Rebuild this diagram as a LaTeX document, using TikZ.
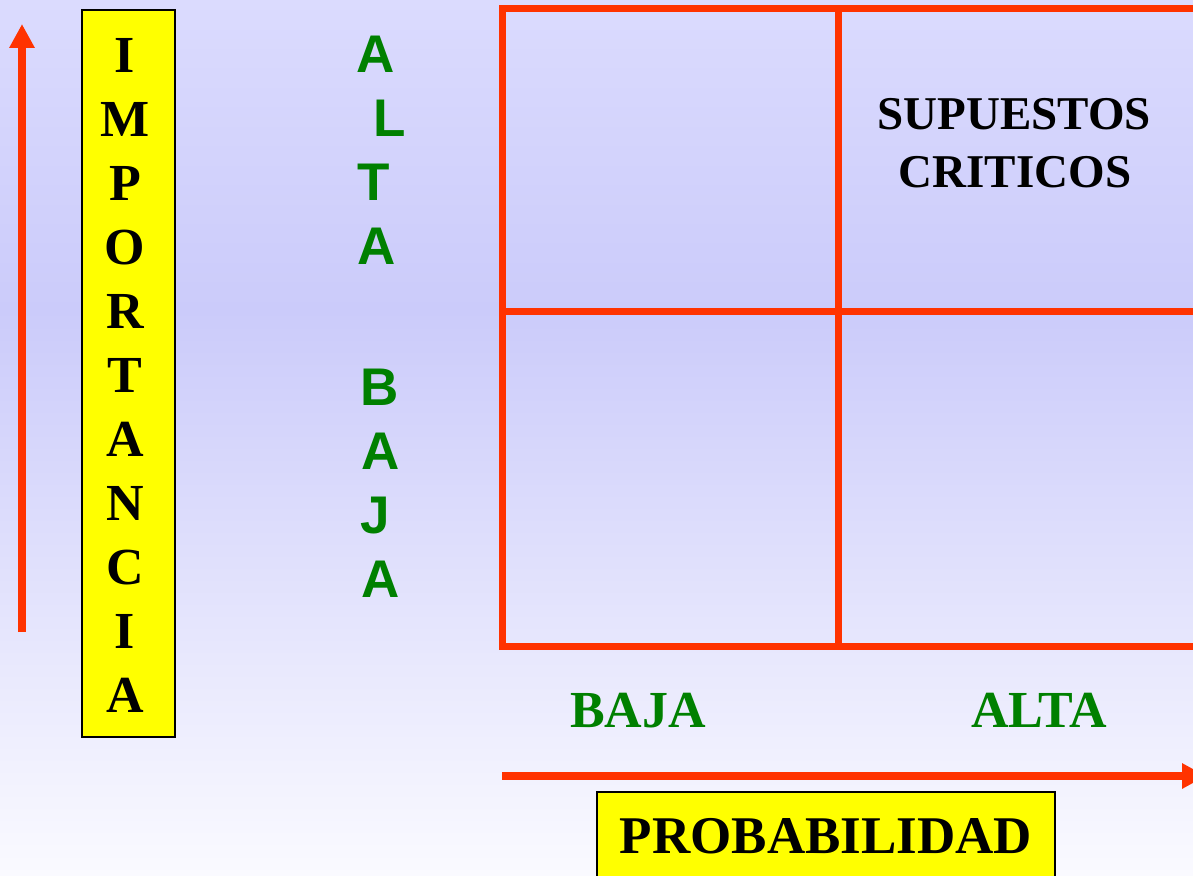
\documentclass[tikz,border=0pt]{standalone}
\usepackage{fontspec}
\setmainfont{Liberation Serif}
\newfontfamily\arialf{Liberation Sans}
\usetikzlibrary{arrows.meta}
\definecolor{bgtop}{RGB}{219,219,254}
\definecolor{bgmid}{RGB}{203,203,250}
\definecolor{bgbot}{RGB}{250,250,255}
\definecolor{axred}{RGB}{255,51,0}
\definecolor{txtgreen}{RGB}{0,128,0}
\definecolor{boxyellow}{RGB}{255,255,0}
\tikzset{
  gridline/.style={draw=axred,line width=7pt},
  axisarrow/.style={draw=axred,line width=8pt,-{Triangle[width=24pt,length=24pt]}},
  ybox/.style={draw=black,fill=boxyellow,line width=2pt},
  vletter/.style={font=\bfseries\fontsize{52}{62}\selectfont,anchor=base,inner sep=0pt},
  gletter/.style={font=\arialf\bfseries\fontsize{53}{62}\selectfont,text=txtgreen,anchor=base,inner sep=0pt},
  glabel/.style={font=\bfseries\fontsize{52}{62}\selectfont,text=txtgreen,anchor=base,inner sep=0pt},
}
\begin{document}
\begin{tikzpicture}[x=1pt,y=-1pt]
\useasboundingbox (0,0) rectangle (1193,875);
\clip (0,0) rectangle (1193,875);
% background
\shade[top color=bgtop,bottom color=bgmid] (0,0) rectangle (1193,311);
\shade[top color=bgmid,bottom color=bgbot] (0,310) rectangle (1193,875);
% grid
\coordinate (gTL) at (502,9);
\coordinate (gTR) at (1205,9);
\coordinate (gBL) at (502,646);
\coordinate (gBR) at (1205,646);
\coordinate (gMT) at (838,9);
\coordinate (gMB) at (838,646);
\coordinate (gML) at (502,311);
\coordinate (gMR) at (1205,311);
\draw[gridline,line join=miter] (gTR) -- (gTL) -- (gBL) -- (gBR);
\draw[gridline] (gMT) -- (gMB);
\draw[gridline] (gML) -- (gMR);
% vertical axis arrow
\coordinate (vA0) at (22,632);
\coordinate (vA1) at (22,24);
\draw[axisarrow] (vA0) -- (vA1);
% horizontal axis arrow
\coordinate (hA0) at (502,776);
\coordinate (hA1) at (1206,776);
\draw[axisarrow] (hA0) -- (hA1);
% IMPORTANCIA box
\path[ybox] (82,10) rectangle (175,737);
\foreach \ch [count=\i from 0] in {I,M,P,O,R,T,A,N,C,I,A}{
  \node[vletter] (imp\i) at (125,72+64*\i) {\ch};
}
% green vertical letters
\node[gletter] (ga1) at (376,72) {A};
\node[gletter] (ga2) at (390,136) {L};
\node[gletter] (ga3) at (374,200) {T};
\node[gletter] (ga4) at (377,264) {A};
\node[gletter] (gb1) at (380,405) {B};
\node[gletter] (gb2) at (381,469) {A};
\node[gletter] (gb3) at (375,533) {J};
\node[gletter] (gb4) at (381,597) {A};
% quadrant label
\node[font=\bfseries\fontsize{47}{58}\selectfont,anchor=base,inner sep=0pt] (sup1) at (1014,129) {SUPUESTOS};
\node[font=\bfseries\fontsize{47}{58}\selectfont,anchor=base,inner sep=0pt] (sup2) at (1015,187) {CRITICOS};
% bottom labels
\node[glabel] (lbaja) at (638,727) {BAJA};
\node[glabel] (lalta) at (1039,727) {ALTA};
% PROBABILIDAD box
\path[ybox] (597,792) rectangle (1055,890);
\node[font=\bfseries\fontsize{53}{62}\selectfont,anchor=base,inner sep=0pt] (prob) at (826,853) {PROBABILIDAD};
\end{tikzpicture}
\end{document}
